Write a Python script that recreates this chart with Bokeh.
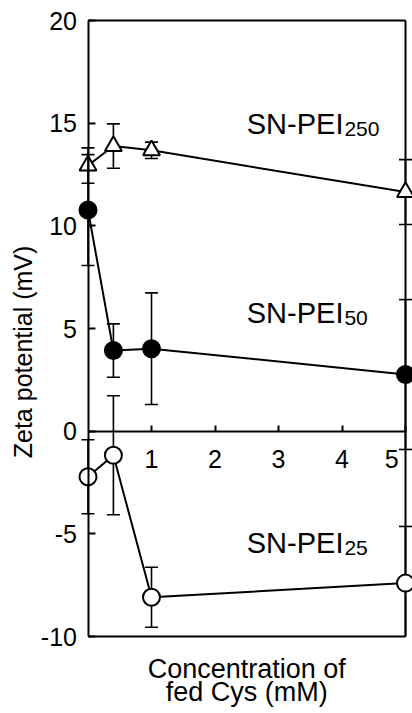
import math
from bokeh.plotting import figure
from bokeh.models import Range1d, LinearAxis, FixedTicker, Label
from bokeh.core.properties import value
from bokeh.embed import file_html
from bokeh.resources import INLINE

# ---- data ----
conc = [0, 0.4, 1, 5]
pei250 = [12.94, 13.89, 13.68, 11.65]
pei250_err = [0.86, 1.08, 0.40, 1.58]
pei50 = [10.77, 3.93, 4.02, 2.76]
pei50_err = [2.70, 1.30, 2.72, 3.65]
pei25 = [-2.22, -1.17, -8.09, -7.40]
pei25_err = [1.80, 2.90, 1.46, 2.76]
x_ticks = [1, 2, 3, 4, 5]
y_ticks = [-10, -5, 0, 5, 10, 15, 20]
name_main = "SN-PEI"
name_subs = ["250", "50", "25"]
x_title = ["Concentration of", "fed Cys (mM)"]
y_title = "Zeta potential (mV)"

FONT = "Liberation Sans"
NB = "\u00a0"

# frame covers the whole canvas; data -> pixel mapping set by the ranges
PX_X = 63.5     # pixels per mM
PX_Y = 20.53    # pixels per mV
X0_PX = 87.5    # pixel column of x = 0
Y0_PX = 430.7   # pixel row of y = 0
W, H = 412, 713

p = figure(width=W, height=H,
           x_range=Range1d(-X0_PX / PX_X, (W - X0_PX) / PX_X),
           y_range=Range1d(-(H - Y0_PX) / PX_Y, Y0_PX / PX_Y),
           output_backend="svg", toolbar_location=None,
           x_axis_location=None, y_axis_location=None,
           min_border_left=0, min_border_right=0, min_border_top=0, min_border_bottom=0)
p.grid.visible = False
p.outline_line_color = None
p.background_fill_color = "white"
p.border_fill_color = "white"

# left axis drawn at x = 0
yax = LinearAxis(fixed_location=0, ticker=FixedTicker(ticks=y_ticks),
                 bounds=(y_ticks[0], y_ticks[-1]),
                 major_tick_in=7, major_tick_out=0, minor_tick_in=0, minor_tick_out=0,
                 axis_line_width=2, major_tick_line_width=2,
                 axis_line_color="black", major_tick_line_color="black",
                 major_label_text_font=FONT, major_label_text_font_size="25px",
                 major_label_text_color="black", major_label_standoff=11,
                 major_label_overrides={t: str(t) for t in y_ticks})
p.add_layout(yax, "left")

# x axis drawn at y = 0 (last label nudged left of the right border)
x_labels = {t: str(t) for t in x_ticks}
x_labels[x_ticks[-1]] = str(x_ticks[-1]) + NB * 2
xax = LinearAxis(fixed_location=0, ticker=FixedTicker(ticks=x_ticks),
                 bounds=(conc[0], conc[-1]),
                 major_tick_in=6, major_tick_out=0, minor_tick_in=0, minor_tick_out=0,
                 axis_line_width=2, major_tick_line_width=2,
                 axis_line_color="black", major_tick_line_color="black",
                 major_label_text_font=FONT, major_label_text_font_size="25px",
                 major_label_text_color="black", major_label_standoff=14,
                 major_label_overrides=x_labels)
p.add_layout(xax, "below")

# frame: top, bottom, right
p.segment(x0=[conc[0], conc[0], conc[-1]], y0=[y_ticks[-1], y_ticks[0], y_ticks[0]],
          x1=[conc[-1], conc[-1], conc[-1]], y1=[y_ticks[-1], y_ticks[0], y_ticks[-1]],
          line_color="black", line_width=2)

series = [
    (pei250, pei250_err, "triangle", "white"),
    (pei50, pei50_err, "circle", "black"),
    (pei25, pei25_err, "circle", "white"),
]

ymin, ymax = y_ticks[0], y_ticks[-1]
for ys, es, marker, fill in series:
    lo = [max(y - e, ymin) for y, e in zip(ys, es)]
    hi = [min(y + e, ymax) for y, e in zip(ys, es)]
    caps_x = [c for c, y, e in zip(conc, ys, es) if y - e >= ymin] + \
             [c for c, y, e in zip(conc, ys, es) if y + e <= ymax]
    caps_y = [y - e for y, e in zip(ys, es) if y - e >= ymin] + \
             [y + e for y, e in zip(ys, es) if y + e <= ymax]
    p.line(conc, ys, line_color="black", line_width=2)
    p.segment(x0=conc, y0=lo, x1=conc, y1=hi, line_color="black", line_width=1.6)
    p.scatter(caps_x, caps_y, marker="dash", size=13, line_color="black", line_width=1.6)
    p.scatter(conc, ys, marker=marker, size=17, fill_color=fill, line_color="black", line_width=2)

# series labels with subscripts
lab_x = [2.50, 2.50, 2.50]
lab_y = [14.95, 5.75, -5.45]
main_px = 29
sub_px = 21
main_w = 3.334 * main_px
for lx, ly, sub in zip(lab_x, lab_y, name_subs):
    p.text(x=[lx], y=[ly], text=[name_main], text_font=value(FONT),
           text_font_size=f"{main_px}px", text_color="black", text_baseline="alphabetic")
    p.text(x=[lx], y=[ly - 0.22], text=[sub], text_font=value(FONT), x_offset=main_w + 1,
           text_font_size=f"{sub_px}px", text_color="black", text_baseline="alphabetic")

# axis titles
for t, yy in zip(x_title, [-11.56, -12.68]):
    p.add_layout(Label(x=2.5, y=yy, text=t, text_align="center", text_baseline="alphabetic",
                       text_font=FONT, text_font_size="27px", text_color="black"))
p.add_layout(Label(x=-1.03, y=3.86, text=y_title, angle=math.pi / 2, text_align="center",
                   text_baseline="alphabetic", text_font=FONT, text_font_size="25px",
                   text_color="black"))

open("out.html", "w").write(file_html(p, INLINE))
